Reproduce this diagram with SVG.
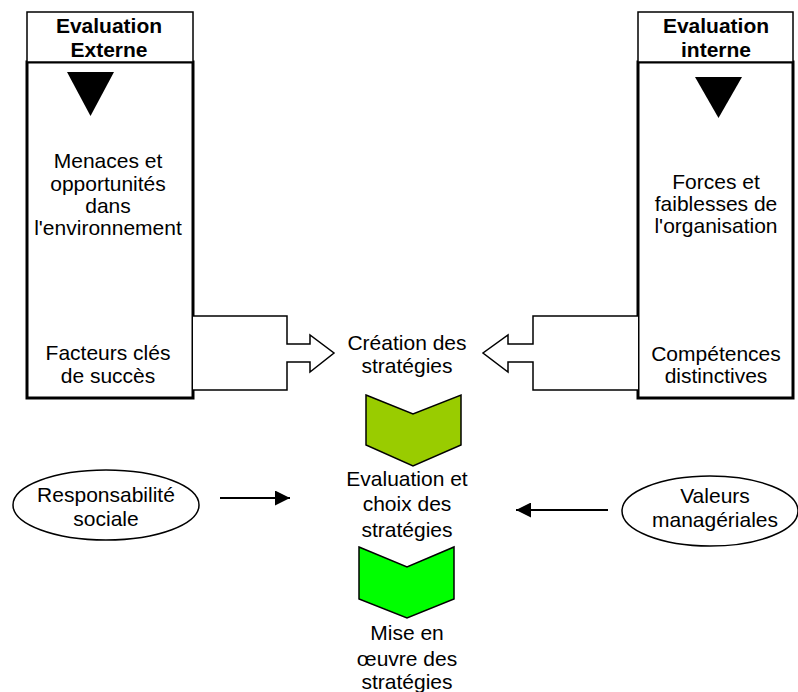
<svg xmlns="http://www.w3.org/2000/svg" width="798" height="692" viewBox="0 0 798 692">
  <style>
    text { font-family: "Liberation Sans", Arial, sans-serif; font-size: 21px; fill: #000; text-anchor: middle; }
    .head { font-weight: bold; font-size: 21px; }
    .hdr { fill: #fff; stroke: #000; stroke-width: 1.5; }
    .col { fill: #fff; stroke: #000; stroke-width: 3; }
    .tri { fill: #000; }
    .block { fill: #fff; stroke: #000; stroke-width: 1.5; stroke-linejoin: miter; }
    .chev { stroke: #000; stroke-width: 1.5; }
    .oval { fill: #fff; stroke: #000; stroke-width: 1.5; }
    .line { stroke: #000; stroke-width: 2; fill: none; }
  </style>
  <defs>
    <marker id="head" viewBox="0 0 10 10" refX="10" refY="5" markerWidth="17" markerHeight="15" markerUnits="userSpaceOnUse" orient="auto">
      <path d="M0,0 L10,5 L0,10 Z" fill="#000"/>
    </marker>
  </defs>

  <rect width="798" height="692" fill="#fff"/>

  <!-- External evaluation column -->
  <g id="eval-externe">
    <rect class="col" x="27" y="62" width="166" height="336"/>
    <rect class="hdr" x="27" y="12" width="166" height="50"/>
    <text class="head" x="109" y="33">Evaluation</text>
    <text class="head" x="109" y="57">Externe</text>
    <polygon class="tri" points="67,72 114,72 90.5,116"/>
    <text x="108" y="168">Menaces et</text>
    <text x="108" y="191">opportunités</text>
    <text x="108" y="213">dans</text>
    <text x="108" y="235">l'environnement</text>
    <text x="108" y="360">Facteurs clés</text>
    <text x="108" y="383">de succès</text>
  </g>

  <!-- Internal evaluation column -->
  <g id="eval-interne">
    <rect class="col" x="638" y="62" width="155" height="336"/>
    <rect class="hdr" x="638" y="12" width="155" height="50"/>
    <text class="head" x="716" y="33">Evaluation</text>
    <text class="head" x="716" y="57">interne</text>
    <polygon class="tri" points="695,77 742,77 718.5,118"/>
    <text x="716" y="189">Forces et</text>
    <text x="716" y="211">faiblesses de</text>
    <text x="716" y="233">l'organisation</text>
    <text x="716" y="361">Compétences</text>
    <text x="716" y="383">distinctives</text>
  </g>

  <!-- Central sequence -->
  <g id="creation">
    <text x="407" y="350">Création des</text>
    <text x="407" y="373">stratégies</text>
  </g>
  <g id="evaluation-choix">
    <text x="407" y="486">Evaluation et</text>
    <text x="407" y="511">choix des</text>
    <text x="407" y="537">stratégies</text>
  </g>
  <g id="mise-en-oeuvre">
    <text x="407" y="640">Mise en</text>
    <text x="407" y="666">œuvre des</text>
    <text x="407" y="689">stratégies</text>
  </g>

  <!-- Side influences -->
  <g id="responsabilite">
    <ellipse class="oval" cx="106" cy="505" rx="93" ry="35"/>
    <text x="106" y="502">Responsabilité</text>
    <text x="106" y="526">sociale</text>
  </g>
  <g id="valeurs">
    <ellipse class="oval" cx="710" cy="511" rx="88" ry="35"/>
    <text x="715" y="503">Valeurs</text>
    <text x="715" y="527">managériales</text>
  </g>

  <!-- Connectors -->
  <g id="connectors">
    <path class="block" d="M193,316 H287 V344 H310 V335 L334,353 L310,372 V362 H287 V390 H193"/>
    <path class="block" d="M638,316 H533 V344 H508 V335 L483,353 L508,372 V362 H533 V390 H638"/>
    <polygon class="chev" fill="#99CC00" points="366,395 413,414 461,395 461,445 413,466 366,445"/>
    <polygon class="chev" fill="#00FF00" points="359,547 407,567 454,547 454,599 407,618 359,599"/>
    <line class="line" x1="220" y1="498" x2="290" y2="498" marker-end="url(#head)"/>
    <line class="line" x1="608" y1="510" x2="516" y2="510" marker-end="url(#head)"/>
  </g>
</svg>
